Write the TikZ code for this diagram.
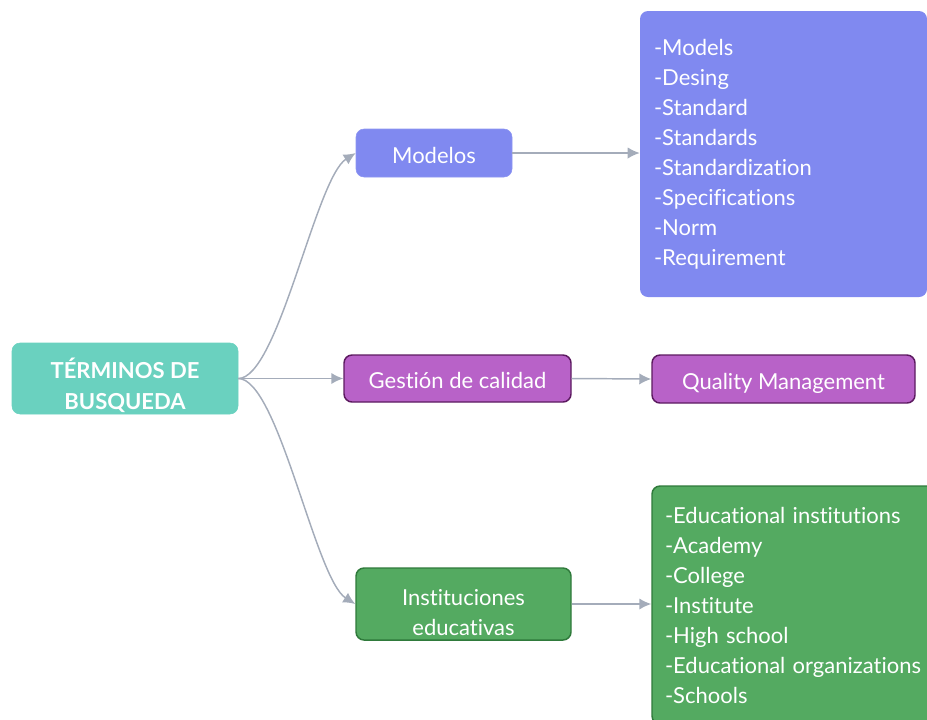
\documentclass[tikz,border=0pt]{standalone}
\usepackage{fontspec}
\setmainfont{Lato}[Ligatures=NoCommon]
\usetikzlibrary{arrows.meta}
\definecolor{rootfill}{HTML}{6AD1BF}
\definecolor{bluefill}{HTML}{8089F0}
\definecolor{purplefill}{HTML}{B862C8}
\definecolor{purpleline}{HTML}{5C1A60}
\definecolor{greenfill}{HTML}{54AA61}
\definecolor{greenline}{HTML}{2F7A3B}
\definecolor{linkgray}{HTML}{A4ACBA}
\begin{document}
\begin{tikzpicture}[x=0.75pt,y=-0.75pt,
  box/.style={rounded corners=6pt,text=white,align=center,inner sep=0pt,
    font=\fontsize{16.5}{22.5}\selectfont},
  oneline/.style={box,text height=17pt,text depth=2pt},
  listbox/.style={box,align=left,text width=#1},
  link/.style={draw=linkgray,line width=1.1pt,-{Latex[length=9pt,width=8.5pt]}}]
\clip (0,0) rectangle (927,719);
% raiz
\node[box,fill=rootfill,draw=rootfill,minimum width=169.5pt,minimum height=53.25pt,text height=49.5pt,
  font=\fontsize{16.5}{23.25}\selectfont\bfseries] (raiz) at (125,378.5) {TÉRMINOS DE\\BUSQUEDA};
% ramas
\node[oneline,fill=bluefill,draw=bluefill!90!white,minimum width=117pt,minimum height=36pt] (modelos) at (434,153) {Modelos};
\node[oneline,fill=purplefill,draw=purpleline,line width=1.1pt,minimum width=170.25pt,minimum height=35.25pt] (gestion) at (457.5,378.5) {Gestión de calidad};
\node[box,fill=greenfill,draw=greenline,line width=1.1pt,minimum width=161.25pt,minimum height=54pt,text height=48pt] (inst) at (463.5,604) {Instituciones\\educativas};
% hojas
\node[listbox=194.25pt,fill=bluefill,minimum width=215.25pt,minimum height=214.5pt] (listmod) at (783.5,154)
  {-Models\\-Desing\\-Standard\\-Standards\\-Standardization\\-Specifications\\-Norm\\-Requirement};
\node[oneline,fill=purplefill,draw=purpleline,line width=1.1pt,minimum width=197.25pt,minimum height=36pt] (quality) at (783.5,379) {Quality Management};
\node[listbox=196.5pt,fill=greenfill,draw=greenline,line width=1.1pt,minimum width=216pt,minimum height=178.5pt] (listinst) at (796,605)
  {-Educational institutions\\-Academy\\-College\\-Institute\\-High school\\-Educational organizations\\-Schools};
% conectores
\draw[link] (raiz.east) .. controls +(40,0) and +(-40,25) .. (modelos.west);
\draw[link] (raiz.east) -- (gestion.west);
\draw[link] (raiz.east) .. controls +(40,0) and +(-40,-25) .. (inst.west);
\draw[link] (modelos.east) -- (listmod.west |- modelos.east);
\draw[link] (gestion.east) -- (quality.west);
\draw[link] (inst.east) -- (listinst.west |- inst.east);
\end{tikzpicture}
\end{document}
